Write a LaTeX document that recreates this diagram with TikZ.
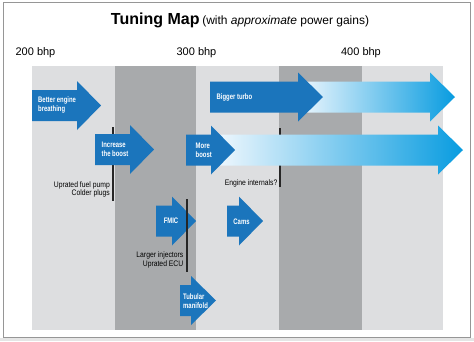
\documentclass[tikz,border=0pt]{standalone}
\usepackage{fontspec}
\setmainfont{Liberation Sans}
\newfontfamily\arrf[FakeStretch=0.74]{Liberation Sans}
\newfontfamily\labf[FakeStretch=0.85]{Liberation Sans}
\definecolor{lightcol}{RGB}{221,222,224}
\definecolor{darkcol}{RGB}{168,170,172}
\definecolor{arrblue}{RGB}{27,117,188}
\definecolor{gradend}{RGB}{8,156,224}
\definecolor{gradstart}{RGB}{236,246,253}
\definecolor{framecol}{RGB}{150,150,150}
\newcommand\mkarrowpath[4]{(#1,#4-15.5) -- (#2,#4-15.5) -- (#2,#4-24.5) -- (#3,#4) -- (#2,#4+24.5) -- (#2,#4+15.5) -- (#1,#4+15.5) -- cycle}
\tikzset{
  darrow/.style={fill=arrblue},
  garrow/.style={left color=gradstart, middle color=gradend!72!gradstart, right color=gradend},
  arrtext/.style={text=white, font=\arrf\bfseries\fontsize{8}{9}\selectfont, align=left, inner sep=0pt},
  labtext/.style={text=black, font=\labf\fontsize{8}{8.6}\selectfont, align=right, inner sep=0pt},
  bhptext/.style={font=\fontsize{11}{12}\selectfont, inner sep=0pt},
  tick/.style={line width=2pt, draw=black!85},
}
\begin{document}
\begin{tikzpicture}[x=1pt, y=-1pt]
\useasboundingbox (0,0) rectangle (474,341);
\fill[white] (0,0) rectangle (474,341);
\fill[black!10] (0,338) rectangle (474,341);
\draw[framecol, line width=1pt] (3,2) rectangle (470,337.5);
% columns
\fill[lightcol] (32,66) rectangle (443,330);
\fill[darkcol] (115,66) rectangle (196,330);
\fill[darkcol] (279,66) rectangle (362,330);
% title
\node[inner sep=0pt] (title) at (240,20) {{\bfseries\fontsize{16}{18}\selectfont Tuning Map} {\fontsize{12}{14}\selectfont (with \textit{approximate} power gains)}};
\node[bhptext] (b200) at (35.5,53) {200 bhp};
\node[bhptext] (b300) at (196.5,53) {300 bhp};
\node[bhptext] (b400) at (361,53) {400 bhp};
% tick lines behind arrows
\coordinate (t1a) at (113,127); \coordinate (t1b) at (113,201);
\coordinate (t2a) at (187,199); \coordinate (t2b) at (187,272);
\coordinate (t3a) at (280,128); \coordinate (t3b) at (280,187);
\draw[tick] (t1a) -- (t1b);
\draw[tick] (t3a) -- (t3b);
% gradient arrows
\shade[garrow] \mkarrowpath{300}{430}{455}{97};
\shade[garrow] \mkarrowpath{220}{438}{463}{150};
% dark arrows
\fill[darrow] \mkarrowpath{32}{77}{101}{105.5};
\fill[darrow] \mkarrowpath{95}{130}{154}{149.5};
\fill[darrow] \mkarrowpath{186}{211}{235}{150};
\fill[darrow] \mkarrowpath{210}{298}{323}{97};
\fill[darrow] \mkarrowpath{156}{172}{196}{221};
\fill[darrow] \mkarrowpath{227}{239}{263}{221};
\fill[darrow] \mkarrowpath{180}{191}{216}{300.5};
% tick line over the FMIC arrow
\draw[tick] (t2a) -- (t2b);
% arrow texts
\node[arrtext, anchor=west] (better) at (38,105) {Better engine\\breathing};
\node[arrtext, anchor=west] (increase) at (101.5,149) {Increase\\the boost};
\node[arrtext, anchor=west] (more) at (195.5,150) {More\\boost};
\node[arrtext, anchor=west] (bigger) at (216.5,97) {Bigger turbo};
\node[arrtext] (fmic) at (171,221) {FMIC};
\node[arrtext] (cams) at (241.5,221.5) {Cams};
\node[arrtext, anchor=west] (tubular) at (183,301) {Tubular\\manifold};
% labels
\node[labtext, anchor=east] (lab1) at (110,189.5) {Uprated fuel pump\\Colder plugs};
\node[labtext, anchor=east] (lab2) at (183.5,260) {Larger injectors\\Uprated ECU};
\node[labtext, anchor=east] (lab3) at (277.5,183) {Engine internals?};
\end{tikzpicture}
\end{document}
